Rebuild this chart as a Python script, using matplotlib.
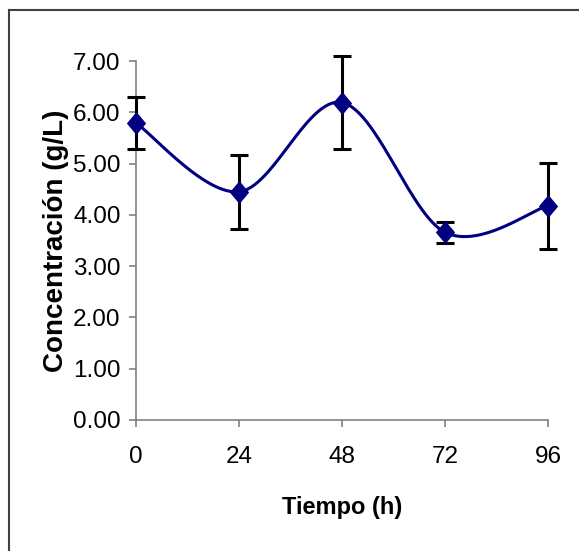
import numpy as np
import matplotlib
matplotlib.use("Agg")
import matplotlib.pyplot as plt
from matplotlib.lines import Line2D

plt.rcParams['font.family'] = ['Liberation Sans', 'DejaVu Sans']

tiempo = [0, 24, 48, 72, 96]
concentracion = [5.79, 4.45, 6.19, 3.66, 4.18]
error = [0.50, 0.72, 0.90, 0.21, 0.84]
xticks = [0, 24, 48, 72, 96]
yticks = [0, 1, 2, 3, 4, 5, 6, 7]


def smooth_curve(x, y, n=60):
    x = np.asarray(x, float)
    y = np.asarray(y, float)
    px = np.concatenate([[x[0]], x, [x[-1]]])
    py = np.concatenate([[y[0]], y, [y[-1]]])
    xs, ys = [], []
    t = np.linspace(0, 1, n)
    for i in range(1, len(px) - 2):
        p0 = np.array([px[i], py[i]])
        p3 = np.array([px[i + 1], py[i + 1]])
        c1 = p0 + (np.array([px[i + 1], py[i + 1]]) - np.array([px[i - 1], py[i - 1]])) / 6
        c2 = p3 - (np.array([px[i + 2], py[i + 2]]) - np.array([px[i], py[i]])) / 6
        b = ((1 - t) ** 3)[:, None] * p0 + (3 * (1 - t) ** 2 * t)[:, None] * c1 \
            + (3 * (1 - t) * t ** 2)[:, None] * c2 + (t ** 3)[:, None] * p3
        xs.append(b[:, 0])
        ys.append(b[:, 1])
    return np.concatenate(xs), np.concatenate(ys)


fig = plt.figure(figsize=(5.79, 5.51), dpi=100)
ax = fig.add_axes([136 / 579, 1 - 420 / 551, (548 - 136) / 579, (420 - 61) / 551])

sx, sy = smooth_curve(tiempo, concentracion)
ax.plot(sx, sy, color='#000080', lw=2.2, zorder=2, clip_on=False)
ax.errorbar(tiempo, concentracion, yerr=error, fmt='none', ecolor='black',
            elinewidth=2.2, capsize=6.5, capthick=2.2, zorder=3, clip_on=False)
diamond = [(0, 1.19), (1, 0), (0, -1.19), (-1, 0), (0, 1.19)]
ax.plot(tiempo, concentracion, linestyle='none', marker=diamond, markersize=15,
        color='#000080', zorder=4, clip_on=False)

ax.set_xlim(0, 96)
ax.set_ylim(0, 7)
ax.set_xticks(xticks)
ax.set_xticklabels([str(v) for v in xticks])
ax.set_yticks(yticks)
ax.set_yticklabels([f"{v:.2f}" for v in yticks])

for s in ['top', 'right']:
    ax.spines[s].set_visible(False)
for s in ['left', 'bottom']:
    ax.spines[s].set_color('#808080')
    ax.spines[s].set_linewidth(1.2)

ax.tick_params(axis='both', direction='out', length=5, width=1.2, color='#808080',
               labelsize=17.5, labelcolor='black')
ax.tick_params(axis='y', pad=6)
ax.tick_params(axis='x', pad=14)

ax.set_xlabel('Tiempo (h)', fontsize=17, fontweight='bold', labelpad=20)
ax.set_ylabel('Concentración (g/L)', fontsize=20, fontweight='bold', labelpad=3)

fig.add_artist(Line2D([9 / 579, 1.0], [1 - 9.5 / 551, 1 - 9.5 / 551],
                      transform=fig.transFigure, color='#404040', lw=1.5))
fig.add_artist(Line2D([9 / 579, 9 / 579], [0, 1 - 9.5 / 551],
                      transform=fig.transFigure, color='#404040', lw=1.5))

fig.savefig('out.png', dpi=100)
